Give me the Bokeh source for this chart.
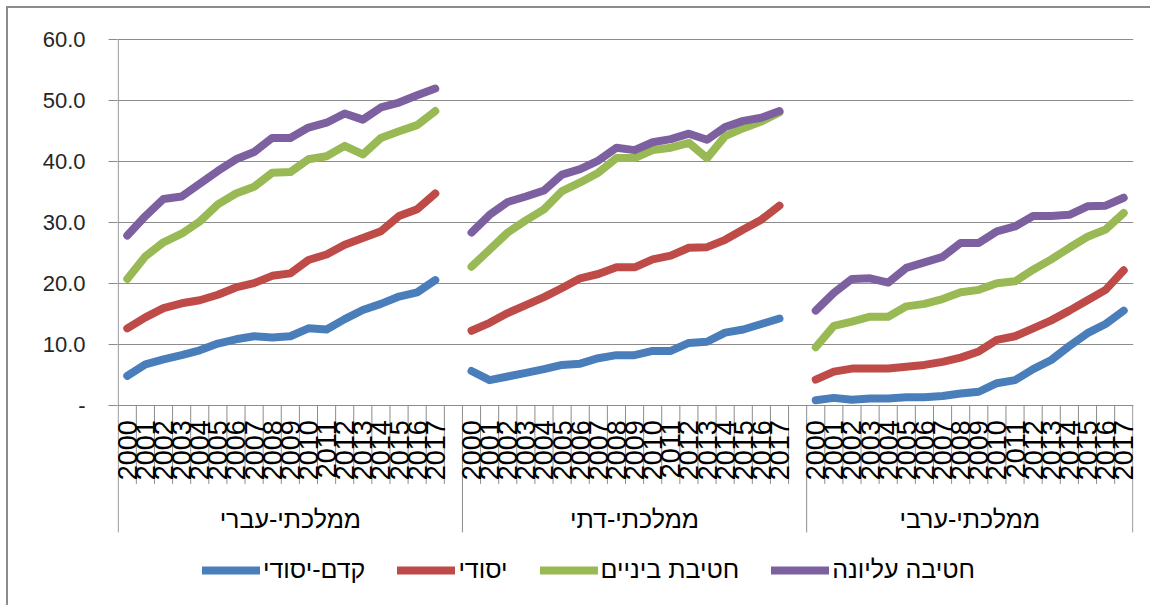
import math
from bokeh.plotting import figure
from bokeh.models import FixedTicker, Legend, LegendItem, Range1d
from bokeh.core.properties import value
from bokeh.embed import file_html
from bokeh.resources import INLINE

years = [str(y) for y in range(2000, 2018)]
groups = ["ממלכתי-עברי", "ממלכתי-דתי", "ממלכתי-ערבי"]
# the source sheet has an empty row after the first two groups
group_categories = [years + [""], years + [""], years]
series_names = ["קדם-יסודי", "יסודי", "חטיבת ביניים", "חטיבה עליונה"]
colors = ["#4A7EBB", "#BE4B48", "#98B954", "#7D60A0"]

# values per group (18 years each): Hebrew state, religious state, Arab state
pre_primary = [
    4.8, 6.7, 7.5, 8.2, 9.0, 10.1, 10.8, 11.3, 11.1, 11.3, 12.6, 12.4, 14.1, 15.6, 16.6, 17.8, 18.5, 20.5,
    5.6, 4.1, 4.7, 5.3, 5.9, 6.6, 6.8, 7.7, 8.2, 8.2, 8.9, 8.9, 10.2, 10.4, 11.9, 12.4, 13.3, 14.2,
    0.8, 1.2, 0.9, 1.1, 1.1, 1.3, 1.3, 1.5, 1.9, 2.2, 3.6, 4.1, 5.9, 7.4, 9.7, 11.8, 13.3, 15.5,
]
primary = [
    12.6, 14.4, 15.9, 16.7, 17.2, 18.1, 19.3, 20.0, 21.2, 21.6, 23.8, 24.7, 26.3, 27.4, 28.5, 31.0, 32.1, 34.7,
    12.2, 13.5, 15.1, 16.4, 17.7, 19.2, 20.8, 21.5, 22.6, 22.6, 23.9, 24.5, 25.8, 25.9, 27.1, 28.8, 30.4, 32.7,
    4.2, 5.5, 6.0, 6.0, 6.0, 6.3, 6.6, 7.1, 7.8, 8.8, 10.7, 11.3, 12.6, 13.9, 15.5, 17.2, 18.9, 22.1,
]
middle = [
    20.7, 24.4, 26.7, 28.1, 30.1, 32.9, 34.7, 35.8, 38.1, 38.2, 40.3, 40.8, 42.5, 41.1, 43.8, 44.9, 45.9, 48.2,
    22.7, 25.5, 28.3, 30.3, 32.1, 35.1, 36.5, 38.1, 40.5, 40.5, 41.8, 42.2, 43.0, 40.5, 44.1, 45.4, 46.5, 48.0,
    9.5, 13.0, 13.7, 14.5, 14.5, 16.2, 16.6, 17.4, 18.5, 18.9, 20.0, 20.3, 22.2, 23.9, 25.8, 27.6, 28.8, 31.5,
]
upper = [
    27.8, 31.0, 33.8, 34.2, 36.3, 38.4, 40.3, 41.5, 43.8, 43.8, 45.5, 46.3, 47.8, 46.8, 48.8, 49.6, 50.8, 51.9,
    28.3, 31.2, 33.3, 34.2, 35.2, 37.8, 38.7, 40.1, 42.2, 41.8, 43.1, 43.6, 44.5, 43.5, 45.6, 46.6, 47.1, 48.2,
    15.5, 18.4, 20.7, 20.8, 20.1, 22.5, 23.4, 24.3, 26.6, 26.6, 28.5, 29.3, 31.0, 31.0, 31.2, 32.6, 32.7, 34.0,
]
y_ticks = [0, 10, 20, 30, 40, 50, 60]
y_labels = ["-", "10.0", "20.0", "30.0", "40.0", "50.0", "60.0"]

n = len(years)
ng = len(groups)
FONT = "Liberation Sans"
GRID = "#8c8c8c"

# category slot positions
starts = []
pos = 0
for cats in group_categories:
    starts.append(pos)
    pos += len(cats)
total = pos

p = figure(width=1144, height=599, output_backend="svg", toolbar_location=None,
           x_axis_location=None,
           x_range=Range1d(-0.04, total + 0.04), y_range=Range1d(-31.85, 60.1),
           min_border_left=109, min_border_right=19, min_border_top=30, min_border_bottom=8)
p.margin = (6, 0, 0, 6)
p.styles = {"border-left": "2px solid #8c8c8c", "border-top": "2px solid #8c8c8c"}
p.outline_line_color = None
p.background_fill_color = "white"
p.border_fill_color = "white"
p.xgrid.visible = False
p.ygrid.ticker = FixedTicker(ticks=y_ticks)
p.ygrid.grid_line_color = GRID
p.ygrid.grid_line_width = 1

ax = p.yaxis[0]
ax.ticker = FixedTicker(ticks=y_ticks)
ax.major_label_overrides = {t: lab for t, lab in zip(y_ticks, y_labels)}
ax.axis_line_color = None
ax.major_tick_in = 0
ax.major_tick_out = 9
ax.major_tick_line_color = GRID
ax.minor_tick_line_color = None
ax.major_label_standoff = 23
ax.major_label_text_font = FONT
ax.major_label_text_font_size = "22px"
ax.major_label_text_color = "#262626"

# separators: value axis line, category ticks, group dividers
y_cat_bottom = -12.9
y_grp_bottom = -20.85
group_edges = set(starts + [total])
sx0, sy0, sx1, sy1 = [0], [y_ticks[-1]], [0], [0]
for k in range(total + 1):
    sx0.append(k); sx1.append(k); sy0.append(0)
    sy1.append(y_grp_bottom if k in group_edges else y_cat_bottom)
p.segment(sx0, sy0, sx1, sy1, line_color=GRID, line_width=1)

# year labels
lx, lt = [], []
for g, cats in enumerate(group_categories):
    for i, c in enumerate(cats):
        lx.append(starts[g] + i + 0.5)
        lt.append(c)
p.text(x=lx, y=[0] * len(lx), text=lt, angle=math.pi / 2,
       text_align="right", text_baseline="middle", y_offset=15,
       text_font=value(FONT), text_font_size="27px", text_color="black")

# group labels
p.text(x=[starts[g] + len(c) / 2 for g, c in enumerate(group_categories)], y=[-18.7] * ng,
       text=groups, text_align="center", text_baseline="middle",
       text_font=value(FONT), text_font_size="25px", text_color="black")

items = []
for name, col, vals in zip(series_names, colors, [pre_primary, primary, middle, upper]):
    xs, ys = [], []
    for g, cats in enumerate(group_categories):
        for i, c in enumerate(cats):
            xs.append(starts[g] + i + 0.5)
            ys.append(vals[g * n + i] if c else float("nan"))
    r = p.line(xs, ys, line_color=col, line_width=8, line_cap="round", line_join="round")
    items.append(LegendItem(label=name, renderers=[r]))

legend = Legend(items=items, orientation="horizontal", location=(85, 15),
                glyph_width=58, glyph_height=24, label_standoff=3, spacing=32,
                padding=4, margin=0, border_line_color=None, background_fill_alpha=0,
                label_text_font=FONT, label_text_font_size="25px", label_text_color="black")
p.add_layout(legend)

open("out.html", "w").write(file_html(p, INLINE))
